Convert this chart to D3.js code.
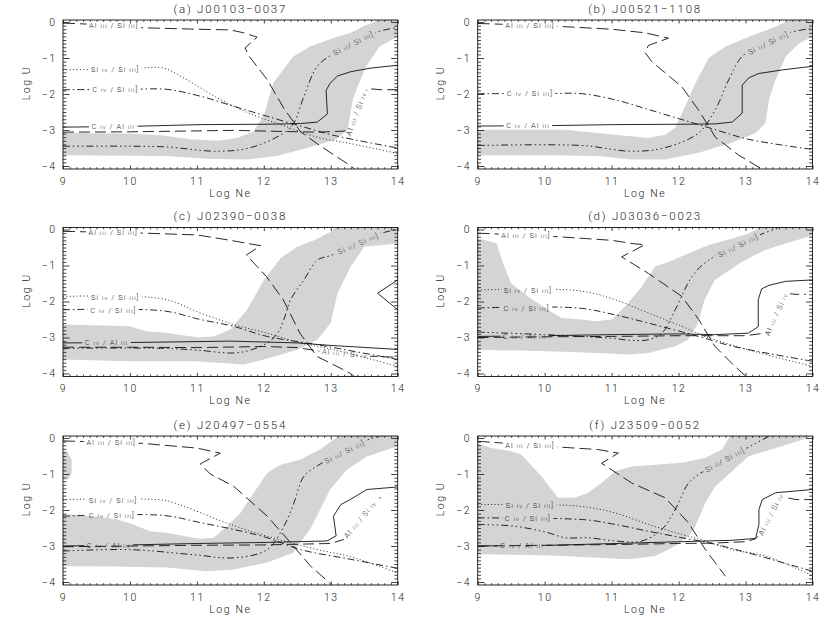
<!DOCTYPE html>
<html><head><meta charset="utf-8">
<script src="https://cdn.jsdelivr.net/npm/d3@7"></script>
<style>
body{margin:0;background:#fff}
svg{display:block}
text{font-family:Roboto,"Liberation Sans",Arial,sans-serif;font-weight:300;fill:#222}
</style></head><body>
<svg id="c" width="830" height="624"></svg>
<script>
// ---------------- DATA ----------------
const panelTitles = ["(a) J00103−0037","(b) J00521−1108","(c) J02390−0038","(d) J03036−0023","(e) J20497−0554","(f) J23509−0052"];
const xTicks = [9,10,11,12,13,14];
const yTicks = [-4,-3,-2,-1,0];
const seriesKeys = ["alsi3","siiv","civsi3","cival","alsiiv","si2"];
const seriesLabels = ["Al iii / Si iii]","Si iv / Si iii]","C iv / Si iii]","C iv / Al iii","Al iii / Si iv","Si ii/ Si iii]"];

// (a) J00103-0037
const aBandTop = [[9,-3.08],[10,-3.1],[10.5,-3.15],[10.9,-3.26],[11.3,-3.3],[11.6,-3.22],[11.84,-3.05],[12.0,-2.6],[12.14,-1.7],[12.3,-1.3],[12.44,-0.96],[12.69,-0.68],[13.03,-0.45],[13.3,-0.3],[13.53,-0.08],[13.78,0.1],[14,0.1]];
const aBandBottom = [[14,-0.4],[13.73,-0.68],[13.53,-1.23],[13.4,-1.8],[13.33,-2.15],[13.28,-2.7],[13.25,-3.0],[13.08,-3.26],[12.74,-3.45],[12.19,-3.72],[11.74,-3.82],[11.14,-3.8],[10.55,-3.72],[9,-3.7]];
const aAlSi3 = [[9,-0.03],[9.4,-0.06],[10.2,-0.16],[11,-0.2],[11.5,-0.22],[11.7,-0.3],[11.9,-0.42],[11.72,-0.72],[11.78,-0.95],[12.05,-1.6],[12.3,-2.4],[12.55,-3.05],[12.85,-3.45],[13.3,-4.0],[13.4,-4.15]];
const aSiIV = [[9,-1.33],[10,-1.3],[10.5,-1.28],[10.8,-1.55],[11.3,-2.1],[11.8,-2.55],[12.3,-2.88],[12.8,-3.2],[13.3,-3.38],[14,-3.65]];
const aCIVSi3 = [[9,-1.88],[10,-1.87],[10.55,-1.87],[11.05,-2.06],[11.55,-2.34],[12.05,-2.62],[12.55,-2.89],[13.05,-3.15],[14,-3.5]];
const aCIVAl = [[9,-2.92],[10,-2.9],[11.05,-2.85],[12.05,-2.84],[12.55,-2.82],[12.8,-2.78],[12.95,-2.55],[12.93,-1.9],[12.99,-1.7],[13.1,-1.5],[13.3,-1.38],[13.6,-1.28],[14,-1.2]];
const aAlSiIV = [[9,-3.06],[10,-3.05],[11.55,-3.01],[12.8,-3.06],[13.2,-3.03],[13.29,-3.0],[13.45,-2.2],[13.55,-1.85],[13.75,-1.88],[14,-1.88]];
const aSiII = [[9,-3.45],[10,-3.45],[10.55,-3.47],[11.3,-3.59],[11.8,-3.49],[12.3,-3.08],[12.45,-2.8],[12.6,-2.06],[12.8,-1.23],[13.05,-0.87],[13.65,-0.3],[14,-0.15]];

// (b) J00521-1108
const bBandTop = [[9,-2.99],[10.3,-2.99],[11.05,-3.13],[11.55,-3.22],[11.8,-3.13],[11.95,-2.94],[12.1,-2.34],[12.25,-1.7],[12.45,-1.0],[12.7,-0.68],[13.05,-0.41],[13.45,-0.13],[13.7,0.1],[14,0.1]];
const bBandBottom = [[14,-0.41],[13.8,-0.59],[13.6,-0.96],[13.45,-1.6],[13.35,-2.16],[13.3,-2.8],[13.15,-3.08],[12.8,-3.35],[12.3,-3.63],[11.8,-3.82],[11.3,-3.82],[10.8,-3.72],[10.05,-3.7],[9,-3.7]];
const bAlSi3 = [[9,-0.04],[10,-0.1],[11,-0.2],[11.5,-0.3],[11.85,-0.45],[11.55,-0.65],[11.5,-0.85],[11.6,-1.1],[12.05,-1.8],[12.3,-2.45],[12.55,-3.2],[12.9,-3.7],[13.3,-4.15]];
const bCIVSi3 = [[9,-1.99],[10,-1.99],[10.55,-1.99],[11.05,-2.16],[11.55,-2.43],[12.05,-2.71],[12.55,-2.99],[13.05,-3.26],[14,-3.54]];
const bCIVAl = [[9,-2.89],[10,-2.88],[11.05,-2.85],[12.05,-2.84],[12.55,-2.83],[12.8,-2.78],[12.95,-2.53],[12.95,-1.75],[13.05,-1.55],[13.2,-1.43],[13.55,-1.33],[14,-1.23]];
const bSiII = [[9,-3.43],[10.55,-3.43],[11.3,-3.59],[11.8,-3.49],[12.3,-3.08],[12.55,-2.43],[12.75,-1.6],[12.95,-0.95],[13.1,-0.8],[13.65,-0.3],[14,-0.18]];

// (c) J02390-0038
const cBandTop = [[9,-2.64],[10,-2.69],[10.25,-2.83],[10.5,-2.86],[11,-2.99],[11.25,-2.97],[11.5,-2.78],[11.75,-2.23],[12,-1.4],[12.25,-0.8],[12.5,-0.48],[12.75,-0.3],[13,-0.06],[13.1,0.1],[14,0.1]];
const cBandBottom = [[14,-0.39],[13.5,-0.48],[13.3,-1.03],[13.1,-1.77],[13.0,-2.6],[12.8,-3.06],[12.5,-3.34],[12.0,-3.61],[11.7,-3.75],[11.0,-3.66],[10,-3.66],[9,-3.61]];
const cAlSi3 = [[9,-0.05],[10.2,-0.1],[11,-0.15],[11.5,-0.3],[11.95,-0.45],[11.74,-0.71],[12.04,-1.31],[12.29,-1.95],[12.54,-2.88],[12.79,-3.52],[13.28,-3.98],[13.4,-4.15]];
const cSiIV = [[9,-1.86],[10.5,-1.93],[11.05,-2.32],[11.55,-2.64],[12.05,-2.88],[12.55,-3.15],[13.05,-3.34],[14,-3.8]];
const cCIVSi3 = [[9,-2.23],[10.5,-2.26],[11.05,-2.5],[11.55,-2.69],[12.05,-2.97],[12.8,-3.2],[14,-3.61]];
const cCIVAl = [[9,-3.15],[10,-3.14],[11.5,-3.1],[12.5,-3.15],[13,-3.22],[14,-3.33]];
const cCIVAl2 = [[14,-1.4],[13.7,-1.77],[14,-2.23]];
const cAlSiIV = [[9,-3.27],[10,-3.27],[11,-3.28],[12,-3.25],[12.5,-3.28],[12.84,-3.38],[13.6,-3.52],[14,-3.55]];
const cSiII = [[9,-3.3],[10.5,-3.3],[11,-3.35],[11.55,-3.43],[11.8,-3.35],[12.05,-3.15],[12.2,-2.9],[12.3,-2.5],[12.4,-1.95],[12.6,-1.4],[12.8,-0.85],[13.0,-0.72],[13.8,-0.08],[14,0.0]];

// (d) J03036-0023
const dBandTop = [[9,-0.25],[9.2,-0.34],[9.28,-0.39],[9.4,-1.03],[9.5,-1.5],[9.75,-1.86],[10.05,-2.23],[10.25,-2.46],[10.55,-2.5],[10.75,-2.55],[11.0,-2.5],[11.2,-2.14],[11.45,-1.59],[11.65,-1.03],[11.85,-0.9],[12.15,-0.66],[12.45,-0.43],[12.8,-0.25],[13.05,-0.11],[13.25,0.1],[14,0.1]];
const dBandBottom = [[14,-0.16],[13.29,-0.57],[12.94,-0.9],[12.54,-1.4],[12.39,-1.95],[12.29,-2.6],[12.14,-3.06],[11.95,-3.24],[11.55,-3.43],[11.25,-3.47],[10.8,-3.43],[10.05,-3.38],[9,-3.34]];
const dAlSi3 = [[9,-0.1],[10.2,-0.2],[11,-0.3],[11.35,-0.4],[11.5,-0.42],[11.15,-0.76],[11.55,-1.22],[12.05,-1.86],[12.3,-2.5],[12.54,-3.24],[12.84,-3.8],[13.05,-4.15]];
const dSiIV = [[9,-1.68],[10.5,-1.7],[11.05,-1.95],[11.55,-2.32],[12.05,-2.69],[12.4,-2.97],[13.04,-3.34],[14,-3.8]];
const dCIVSi3 = [[9,-2.18],[10.5,-2.18],[11.05,-2.37],[11.55,-2.6],[12.3,-2.97],[12.8,-3.24],[14,-3.66]];
const dCIVAl = [[9,-2.97],[10,-2.95],[11,-2.92],[12,-2.9],[12.54,-2.92],[13.04,-2.88],[13.19,-2.7],[13.19,-1.95],[13.24,-1.65],[13.35,-1.55],[13.6,-1.44],[14,-1.4]];
const dAlSiIV = [[9,-3.0],[10,-2.98],[11,-2.97],[12,-2.95],[12.5,-2.95],[13.0,-2.95],[13.2,-2.9],[13.34,-2.85],[13.6,-1.77],[13.75,-1.8],[13.9,-1.8]];
const dSiII = [[9,-2.85],[10,-2.92],[11,-3.02],[11.3,-3.08],[11.55,-3.06],[11.75,-2.88],[11.95,-2.23],[12.2,-1.31],[12.45,-0.85],[13.25,-0.12],[13.7,0.15]];

// (e) J20497-0554
const eBlob = [[9,-0.37],[9.06,-0.37],[9.13,-0.6],[9.13,-0.95],[9.08,-1.15],[9,-1.15]];
const eBandTop = [[9,-2.12],[9.45,-2.17],[9.8,-2.26],[10.05,-2.4],[10.3,-2.59],[10.55,-2.63],[10.8,-2.72],[11.05,-2.8],[11.25,-2.77],[11.45,-2.45],[11.65,-2.08],[11.85,-1.52],[12.05,-0.97],[12.25,-0.74],[12.55,-0.6],[12.84,-0.32],[13.15,0.1],[14,0.1]];
const eBandBottom = [[14,-0.23],[13.54,-0.51],[13.24,-0.88],[12.99,-1.43],[12.84,-1.99],[12.69,-2.54],[12.54,-2.91],[12.44,-3.19],[12.05,-3.46],[11.55,-3.65],[11.15,-3.7],[10.55,-3.6],[9.56,-3.56],[9,-3.56]];
const eAlSi3 = [[9,-0.08],[10.2,-0.15],[11,-0.28],[11.35,-0.42],[11.05,-0.72],[11.2,-1.0],[11.55,-1.34],[12.05,-2.17],[12.4,-2.91],[12.7,-3.56],[12.98,-4.02],[13.05,-4.15]];
const eSiIV = [[9,-1.71],[10.5,-1.73],[10.8,-1.89],[11.3,-2.26],[11.8,-2.59],[12.4,-2.91],[12.8,-3.1],[13.3,-3.3],[14,-3.75]];
const eCIVSi3 = [[9,-2.17],[10.5,-2.15],[11.05,-2.35],[11.55,-2.54],[12.05,-2.77],[12.55,-3.1],[13.3,-3.37],[14,-3.62]];
const eCIVAl = [[9,-3.0],[10,-2.97],[11,-2.93],[12.05,-2.9],[12.94,-2.86],[13.08,-2.72],[13.04,-2.17],[13.15,-1.85],[13.29,-1.71],[13.54,-1.43],[14,-1.36]];
const eAlSiIV = [[9,-3.02],[10,-3.0],[11,-2.98],[12,-2.97],[12.5,-2.95],[13,-2.93],[13.19,-2.82],[13.69,-1.71],[13.75,-1.65]];
const eSiII = [[9,-3.14],[10,-3.1],[11,-3.25],[11.55,-3.33],[12.05,-3.1],[12.3,-2.45],[12.45,-1.8],[12.6,-1.06],[12.82,-0.75],[13.6,-0.02],[14,0.14]];

// (f) J23509-0052
const fBandTop = [[9,-0.14],[9.2,-0.28],[9.35,-0.32],[9.5,-0.37],[9.65,-0.46],[9.95,-1.06],[10.2,-1.66],[10.45,-1.66],[10.65,-1.52],[10.85,-1.25],[11.05,-0.92],[11.3,-0.79],[11.65,-0.74],[12.05,-0.69],[12.4,-0.55],[12.65,-0.32],[12.78,0.1],[14,0.1]];
const fBandBottom = [[14,0.05],[13.54,-0.23],[13.04,-0.51],[12.8,-0.92],[12.55,-1.34],[12.4,-1.8],[12.25,-2.45],[12.15,-2.72],[11.95,-3.0],[11.65,-3.28],[11.25,-3.37],[10.85,-3.33],[10.3,-3.28],[9.8,-3.25],[9,-3.23]];
const fAlSi3 = [[9,-0.09],[10.2,-0.25],[10.8,-0.32],[11.1,-0.42],[10.85,-0.7],[11.3,-1.25],[11.8,-1.66],[12.15,-2.36],[12.4,-3.1],[12.7,-3.84]];
const fSiIV = [[9,-1.85],[10.5,-1.89],[11.05,-2.08],[11.55,-2.4],[12.05,-2.68],[12.4,-2.86],[12.8,-3.1],[13.3,-3.28],[14,-3.83]];
const fCIVSi3 = [[9,-2.22],[10.6,-2.27],[11.05,-2.4],[11.55,-2.59],[12.05,-2.77],[12.45,-2.91],[13.04,-3.19],[14,-3.7]];
const fCIVAl = [[9,-3.0],[10.1,-2.98],[11.05,-2.93],[12.05,-2.88],[12.8,-2.84],[13.15,-2.79],[13.2,-2.4],[13.2,-1.99],[13.25,-1.71],[13.45,-1.52],[14,-1.43]];
const fAlSiIV = [[9,-3.0],[10,-2.98],[11,-2.96],[12,-2.93],[12.5,-2.92],[13,-2.88],[13.15,-2.8],[13.24,-2.63],[13.52,-1.62],[13.75,-1.71],[14,-1.71]];
const fSiII = [[9,-2.4],[9.55,-2.45],[10.05,-2.63],[10.3,-2.77],[10.65,-2.77],[11.05,-2.86],[11.45,-2.86],[11.75,-2.54],[11.95,-1.99],[12.15,-1.25],[12.35,-0.95],[13.0,-0.3],[13.3,0.0],[13.45,0.14]];

// label anchor (Log Ne) for each series, in seriesKeys order
const labelNe = {
  a:[9.76,9.78,9.78,9.75,13.38,13.34],
  b:[9.78,null,9.78,9.75,null,13.34],
  c:[9.75,9.78,9.75,9.65,13.21,13.41],
  d:[9.72,9.75,9.73,9.7,13.46,12.89],
  e:[9.72,9.75,9.73,9.68,13.44,13.21],
  f:[9.78,9.78,9.75,9.66,13.38,12.69]
};

// ---------------- LAYOUT / STYLE ----------------
const W=830,H=624;
const colX=[[63,397.7],[477.7,812.5]];
const rowTop=[20,227.5,436];
const PH=149;
const xDomain=[9,14], yDomain=[-4.083,0.056];
const bandColor="#d4d4d4", lineColor="#111";
const dashes={alsi3:"12,5",siiv:"1,2.4",civsi3:"7,3,1.5,3",cival:null,alsiiv:"11,5",si2:"7,3,1.5,3,1.5,3,1.5,3"};
const smoothKeys=["siiv","civsi3","si2"];
const rotKeys=["alsiiv","si2"];

const panels=[
 {title:panelTitles[0],top:aBandTop,bottom:aBandBottom,blob:null,series:{alsi3:[aAlSi3],siiv:[aSiIV],civsi3:[aCIVSi3],cival:[aCIVAl],alsiiv:[aAlSiIV],si2:[aSiII]},lab:labelNe.a},
 {title:panelTitles[1],top:bBandTop,bottom:bBandBottom,blob:null,series:{alsi3:[bAlSi3],civsi3:[bCIVSi3],cival:[bCIVAl],si2:[bSiII]},lab:labelNe.b},
 {title:panelTitles[2],top:cBandTop,bottom:cBandBottom,blob:null,series:{alsi3:[cAlSi3],siiv:[cSiIV],civsi3:[cCIVSi3],cival:[cCIVAl,cCIVAl2],alsiiv:[cAlSiIV],si2:[cSiII]},lab:labelNe.c},
 {title:panelTitles[3],top:dBandTop,bottom:dBandBottom,blob:null,series:{alsi3:[dAlSi3],siiv:[dSiIV],civsi3:[dCIVSi3],cival:[dCIVAl],alsiiv:[dAlSiIV],si2:[dSiII]},lab:labelNe.d},
 {title:panelTitles[4],top:eBandTop,bottom:eBandBottom,blob:eBlob,series:{alsi3:[eAlSi3],siiv:[eSiIV],civsi3:[eCIVSi3],cival:[eCIVAl],alsiiv:[eAlSiIV],si2:[eSiII]},lab:labelNe.e},
 {title:panelTitles[5],top:fBandTop,bottom:fBandBottom,blob:null,series:{alsi3:[fAlSi3],siiv:[fSiIV],civsi3:[fCIVSi3],cival:[fCIVAl],alsiiv:[fAlSiIV],si2:[fSiII]},lab:labelNe.f}
];

const svg=d3.select("#c");
const defs=svg.append("defs");

function interpAt(pts,ne){
  for(let k=0;k<pts.length-1;k++){
    const [x0,y0]=pts[k],[x1,y1]=pts[k+1];
    if(x0!==x1 && (ne-x0)*(ne-x1)<=0){const t=(ne-x0)/(x1-x0);return {u:y0+t*(y1-y0),k};}
  }
  return null;
}
function makeLabel(g,str,fs){
  const t=g.append("text").attr("font-size",fs).attr("letter-spacing",1.05);
  str.split(/(\b[iv]+\b)/).forEach(part=>{
    if(!part) return;
    const roman=/^[iv]+$/.test(part);
    t.append("tspan").attr("font-size",roman?fs*0.8:fs).text(part);
  });
  return t;
}

const xMinor=d3.range(90,141).map(v=>v/10).filter(v=>Math.abs(v-Math.round(v))>1e-6);
const yMinor=d3.range(-40,1).map(v=>v/10).filter(v=>Math.abs(v-Math.round(v))>1e-6);

panels.forEach((p,i)=>{
  const col=i%2,row=Math.floor(i/2);
  const x=d3.scaleLinear().domain(xDomain).range(colX[col]);
  const top=rowTop[row],bot=top+PH;
  const y=d3.scaleLinear().domain(yDomain).range([bot,top]);
  const L=colX[col][0],R=colX[col][1];
  const g=svg.append("g");

  defs.append("clipPath").attr("id","clip"+i).append("rect").attr("x",L).attr("y",top).attr("width",R-L).attr("height",PH);
  const plot=g.append("g").attr("clip-path",`url(#clip${i})`);
  const labelG=g.append("g");

  const poly=d3.line().x(d=>x(d[0])).y(d=>y(d[1]));
  plot.append("path").attr("d",poly(p.top.concat(p.bottom))+"Z").attr("fill",bandColor);
  if(p.blob) plot.append("path").attr("d",poly(p.blob)+"Z").attr("fill",bandColor);

  const smoothGen=d3.line().x(d=>x(d[0])).y(d=>y(d[1])).curve(d3.curveCatmullRom.alpha(0.5));

  seriesKeys.forEach((key,si)=>{
    const segs=p.series[key]; if(!segs) return;
    const ne=p.lab[si];
    let maskId=null;
    if(ne!=null){
      const pts=segs[0];
      const hit=interpAt(pts,ne);
      const cx=x(ne),cy=y(hit.u);
      let ang=0;
      if(rotKeys.includes(key)){
        const a=pts[hit.k],b=pts[hit.k+1];
        ang=Math.atan2(y(b[1])-y(a[1]),x(b[0])-x(a[0]))*180/Math.PI;
        if(ang>90)ang-=180; if(ang<-90)ang+=180;
      }
      const t=makeLabel(labelG,seriesLabels[si],7.5)
        .attr("x",cx).attr("y",cy).attr("dy","0.35em").attr("text-anchor","middle")
        .attr("transform",`rotate(${ang},${cx},${cy})`);
      const bb=t.node().getBBox();
      maskId=`m${i}_${key}`;
      const m=defs.append("mask").attr("id",maskId).attr("maskUnits","userSpaceOnUse")
        .attr("x",0).attr("y",0).attr("width",W).attr("height",H);
      m.append("rect").attr("x",0).attr("y",0).attr("width",W).attr("height",H).attr("fill","#fff");
      m.append("rect").attr("x",bb.x-2.5).attr("y",bb.y+0.5).attr("width",bb.width+5).attr("height",bb.height-1)
        .attr("fill","#000").attr("transform",`rotate(${ang},${cx},${cy})`);
    }
    const gen=smoothKeys.includes(key)?smoothGen:poly;
    segs.forEach(pts=>{
      plot.append("path").attr("d",gen(pts)).attr("fill","none")
        .attr("stroke",lineColor).attr("stroke-width",0.9)
        .attr("stroke-linejoin","round")
        .attr("stroke-dasharray",dashes[key])
        .attr("mask",maskId?`url(#${maskId})`:null);
    });
  });

  // axes
  const axG=g.append("g");
  const styleAxis=s=>{s.select(".domain").remove();s.selectAll("line").attr("stroke","#111").attr("stroke-width",0.8);
    s.selectAll("text").attr("font-family",null).attr("font-size",10.5).attr("letter-spacing",1.5).attr("fill","#222");};
  axG.append("g").attr("transform",`translate(0,${bot})`).call(d3.axisBottom(x).tickValues(xTicks).tickSize(-3.5).tickPadding(8.5).tickFormat(d3.format("d"))).call(styleAxis);
  axG.append("g").attr("transform",`translate(0,${bot})`).call(d3.axisBottom(x).tickValues(xMinor).tickSize(-1.8).tickFormat("")).call(styleAxis);
  axG.append("g").attr("transform",`translate(0,${top})`).call(d3.axisTop(x).tickValues(xTicks).tickSize(-3.5).tickFormat("")).call(styleAxis);
  axG.append("g").attr("transform",`translate(0,${top})`).call(d3.axisTop(x).tickValues(xMinor).tickSize(-1.8).tickFormat("")).call(styleAxis);
  axG.append("g").attr("transform",`translate(${L},0)`).call(d3.axisLeft(y).tickValues(yTicks).tickSize(-6.5).tickPadding(6.5).tickFormat(d3.format("d"))).call(styleAxis);
  axG.append("g").attr("transform",`translate(${L},0)`).call(d3.axisLeft(y).tickValues(yMinor).tickSize(-3.3).tickFormat("")).call(styleAxis);
  axG.append("g").attr("transform",`translate(${R},0)`).call(d3.axisRight(y).tickValues(yTicks).tickSize(-6.5).tickFormat("")).call(styleAxis);
  axG.append("g").attr("transform",`translate(${R},0)`).call(d3.axisRight(y).tickValues(yMinor).tickSize(-3.3).tickFormat("")).call(styleAxis);
  axG.append("rect").attr("x",L).attr("y",top).attr("width",R-L).attr("height",PH).attr("fill","none").attr("stroke","#111").attr("stroke-width",0.9);

  // titles
  g.append("text").attr("x",(L+R)/2).attr("y",top-7.3).attr("text-anchor","middle").attr("font-size",11.5).attr("letter-spacing",1.8).text(p.title);
  g.append("text").attr("x",(L+R)/2).attr("y",bot+27.7).attr("text-anchor","middle").attr("font-size",10.5).attr("letter-spacing",1.6).text("Log Ne");
  g.append("text").attr("transform",`translate(${L-33.5},${top+63}) rotate(-90)`).attr("text-anchor","middle").attr("font-size",10.5).attr("letter-spacing",1.6).text("Log U");
});
</script>
</body></html>
